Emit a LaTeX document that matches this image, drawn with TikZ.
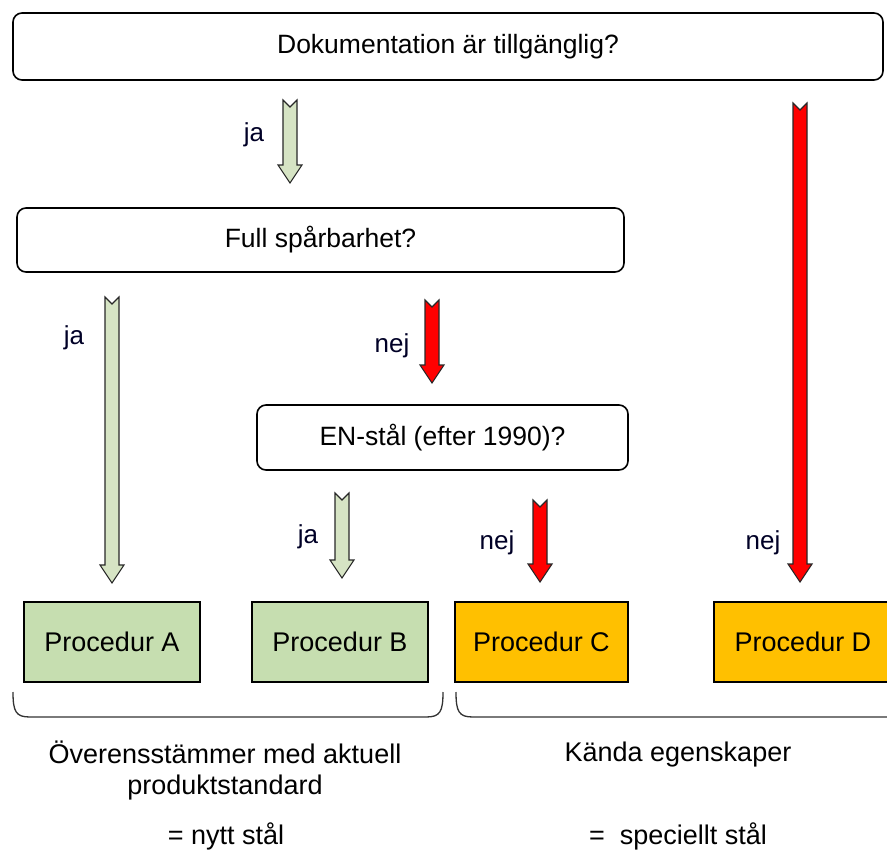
\documentclass[tikz,border=0pt]{standalone}
\usepackage{fontspec}
\setmainfont{Liberation Sans}
\usetikzlibrary{calc}
\definecolor{boxgreen}{RGB}{198,222,176}
\definecolor{arrowgreen}{RGB}{214,228,196}
\definecolor{boxorange}{RGB}{255,192,0}
\definecolor{arrowred}{RGB}{255,0,0}
\definecolor{edgegray}{RGB}{40,40,40}
\tikzset{
  question/.style={draw=black, line width=1.6pt, rounded corners=9pt, fill=white, font=\fontsize{26.5}{30}\selectfont, inner sep=0pt},
  procbox/.style={draw=black, line width=1.6pt, font=\fontsize{27}{30}\selectfont, inner sep=0pt, minimum height=80pt},
  greenproc/.style={procbox, fill=boxgreen},
  orangeproc/.style={procbox, fill=boxorange},
  yesarrow/.style={draw=edgegray, line width=1.1pt, fill=arrowgreen},
  noarrow/.style={draw=edgegray, line width=1.1pt, fill=arrowred},
  answer/.style={font=\fontsize{26}{30}\selectfont, text=black!85!blue},
  caption/.style={font=\fontsize{27}{31}\selectfont, align=center},
  bracket/.style={draw=black!80, line width=1.3pt}
}
% block arrow with a notched tail, from #2 (top) down to #3 (tip)
\newcommand\blockarrow[3][]{%
  \draw[#1] let \p1=(#2), \p2=(#3) in
    (\x1-7pt,\y1) -- (\x1,\y1-7pt) -- (\x1+7pt,\y1) -- (\x1+7pt,\y2+18pt)
    -- (\x1+12pt,\y2+18pt) -- (\x2,\y2) -- (\x1-12pt,\y2+18pt)
    -- (\x1-7pt,\y2+18pt) -- cycle;}
\begin{document}
\begin{tikzpicture}[x=1pt, y=-1pt]
\useasboundingbox (0,0) rectangle (887,851);

% questions
\node[question, minimum width=870pt, minimum height=67pt] (doc) at (448,46.5) {Dokumentation är tillgänglig?};
\node[question, minimum width=607pt, minimum height=64pt] (trace) at (320.5,240) {Full spårbarhet?};
\node[question, minimum width=371pt, minimum height=65pt] (en) at (442.5,437.5) {EN-stål (efter 1990)?};

% procedures
\node[greenproc, minimum width=176pt] (pa) at (112,642) {Procedur A};
\node[greenproc, minimum width=176pt] (pb) at (340,642) {Procedur B};
\node[orangeproc, minimum width=173pt] (pc) at (541.5,642) {Procedur C};
\node[orangeproc, minimum width=178pt] (pd) at (803,642) {Procedur D};

% arrow end points
\coordinate (a1s) at (290,100);  \coordinate (a1e) at (290,183);
\coordinate (a2s) at (112,297);  \coordinate (a2e) at (112,583);
\coordinate (a3s) at (432,300);  \coordinate (a3e) at (432,383);
\coordinate (a4s) at (342,493);  \coordinate (a4e) at (342,578);
\coordinate (a5s) at (540,500);  \coordinate (a5e) at (540,582);
\coordinate (a6s) at (800,103);  \coordinate (a6e) at (800,582);

\blockarrow[yesarrow]{a1s}{a1e}
\blockarrow[yesarrow]{a2s}{a2e}
\blockarrow[noarrow]{a3s}{a3e}
\blockarrow[yesarrow]{a4s}{a4e}
\blockarrow[noarrow]{a5s}{a5e}
\blockarrow[noarrow]{a6s}{a6e}

% arrow labels
\node[answer] (l1) at (254,135) {ja};
\node[answer] (l2) at (74,338) {ja};
\node[answer] (l3) at (392,346) {nej};
\node[answer] (l4) at (308,537) {ja};
\node[answer] (l5) at (497,543) {nej};
\node[answer] (l6) at (763,543) {nej};

% group brackets
\draw[bracket] (13,692) .. controls (13,712) and (16,717) .. (30,717) -- (426,717)
  .. controls (440,717) and (443,712) .. (443,692);
\draw[bracket] (456,692) .. controls (456,712) and (459,717) .. (473,717) -- (887,717);

% group captions
\node[caption] (g1) at (225,770) {Överensstämmer med aktuell\\produktstandard};
\node[caption] (g1b) at (226,836) {= nytt stål};
\node[caption] (g2) at (678,755) {Kända egenskaper};
\node[caption] (g2b) at (678,836) {=\ \ speciellt stål};
\end{tikzpicture}
\end{document}
